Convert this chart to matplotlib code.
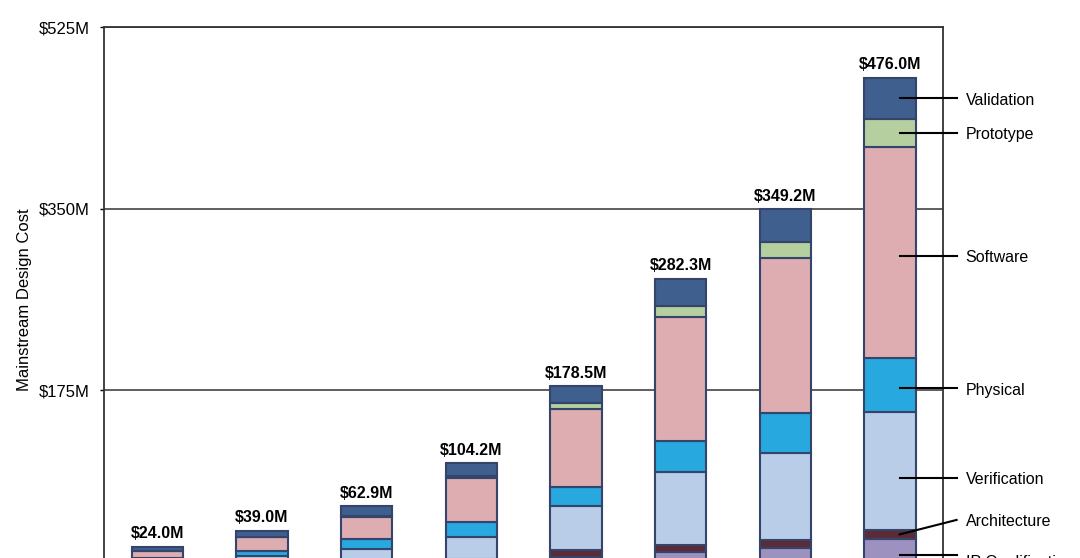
import matplotlib
matplotlib.use("Agg")
import matplotlib.pyplot as plt
import numpy as np

plt.rcParams['font.family'] = ['Liberation Sans', 'DejaVu Sans']

# DATA (US$ M, bottom to top)
totals = [24.0, 39.0, 62.9, 104.2, 178.5, 282.3, 349.2, 476.0]
ip_qual = [3.5, 5.0, 7.5, 9.0, 14.2, 19.1, 22.4, 31.5]
architecture = [1.3, 1.8, 2.5, 3.5, 6.5, 6.5, 8.0, 8.5]
verification = [5.5, 8.5, 12.0, 21.0, 42.8, 70.0, 84.2, 113.8]
physical = [3.0, 4.5, 9.0, 13.9, 18.3, 30.5, 38.5, 52.1]
software = [6.5, 13.2, 21.8, 42.5, 74.6, 119.6, 148.9, 203.5]
prototype = [0.4, 0.6, 1.0, 1.8, 5.8, 10.6, 15.5, 27.0]
validation = [3.8, 5.4, 9.1, 12.5, 16.3, 26.0, 31.7, 39.6]

# the $0M line sits below the cropped edge of the picture
y_ticks = [175, 350, 525]
y_tick_labels = ['$175M', '$350M', '$525M']

series = [
    ('IP Qualification', ip_qual, '#9d91c0'),
    ('Architecture', architecture, '#5b2b36'),
    ('Verification', verification, '#b9cde8'),
    ('Physical', physical, '#27a8de'),
    ('Software', software, '#deadb1'),
    ('Prototype', prototype, '#b5cf9e'),
    ('Validation', validation, '#3f5f8f'),
]

fig = plt.figure(figsize=(10.8, 5.58), dpi=100)
# axes box runs below the bottom edge (the picture is cropped there)
ax = fig.add_axes([104 / 1080, -0.0242, 839 / 1080, 0.9758])

x = np.arange(len(totals))
bottom = np.zeros(len(totals))
for name, vals, color in series:
    ax.bar(x, vals, width=0.49, bottom=bottom, color=color,
           edgecolor='#34446a', linewidth=1.5, zorder=3)
    bottom += np.array(vals)

# total labels on top of bars
for xi, t in zip(x, totals):
    ax.annotate(f'${t:.1f}M', (xi, t), xytext=(0, 4), textcoords='offset points',
                ha='center', va='bottom', fontsize=11.5, fontweight='bold')

# leader lines + category names next to the last bar
# (start shift, end shift) of the leader line, in $M
shifts = {'Software': (-3, -3), 'Physical': (-3, -3),
          'Verification': (-6.5, -6.5), 'Architecture': (0, 14)}
text_extra = {'IP Qualification': -5}
last = len(totals) - 1
base = 0.0
for name, vals, color in series:
    mid = base + vals[last] / 2
    base += vals[last]
    s0, s1 = shifts.get(name, (0, 0))
    ax.plot([last + 0.09, last + 0.635], [mid + s0, mid + s1], color='black',
            lw=1.5, clip_on=False, zorder=4)
    ax.annotate(name, (last + 0.72, mid + s1 + text_extra.get(name, 0)),
                xytext=(0, -1.5), textcoords='offset points',
                ha='left', va='center', fontsize=11.5, annotation_clip=False)

ax.set_xlim(-0.51, 7.505)
ax.set_ylim(0, 525)
ax.set_xticks([])
ax.set_yticks(y_ticks)
ax.set_yticklabels(y_tick_labels)
ax.tick_params(axis='y', direction='out', length=3, width=1, labelsize=12, pad=7)
ax.yaxis.grid(True, color='#333333', linewidth=1.1, zorder=0)
ax.set_axisbelow(True)
for s in ax.spines.values():
    s.set_color('#333333')
    s.set_linewidth(1.3)

ax.set_ylabel('Mainstream Design Cost', fontsize=12, labelpad=5)

plt.savefig('out.png', dpi=100)
